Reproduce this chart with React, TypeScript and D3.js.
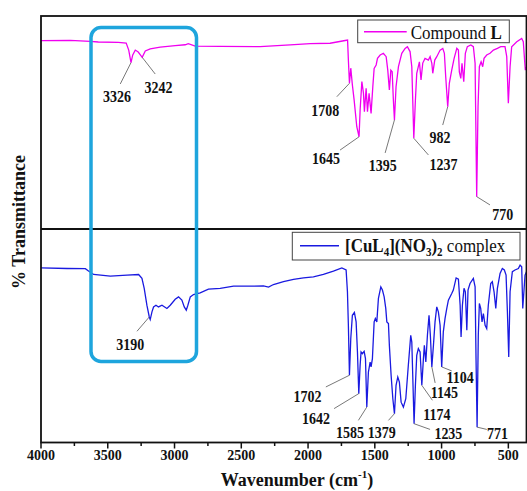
import React from 'react';
import * as d3 from 'd3';

const xTicksMajor = [4000, 3500, 3000, 2500, 2000, 1500, 1000, 500];
const xTicksMinor = [3750, 3250, 2750, 2250, 1750, 1250, 750];

// [wavenumber (cm-1), transmittance (% of panel height)]
const compoundL: [number, number][] = [
  [4000,88.4],[3781,88.6],[3631,88.1],[3571,87.8],[3421,87.6],[3362,87.3],[3343,84.0],[3326,78.1],[3313,81.7],[3294,84.0],[3272,83.1],[3242,80.6],[3219,83.6],[3182,84.6],[3107,85.4],[2995,86.1],[2920,86.5],[2897,87.0],[2845,85.9],[2658,85.7],[2359,85.6],[2134,86.4],[1984,87.0],[1835,87.2],[1722,88.5],[1704,88.7],[1698,79.3],[1690,68.4],[1680,75.5],[1668,67.6],[1655,60.6],[1635,48.0],[1618,43.3],[1610,55.9],[1597,69.2],[1585,63.8],[1578,55.1],[1565,66.1],[1555,55.1],[1543,63.7],[1528,54.3],[1515,66.8],[1505,75.4],[1490,77.0],[1480,80.1],[1460,81.7],[1436,82.5],[1415,80.9],[1403,74.6],[1391,65.3],[1380,74.6],[1370,73.8],[1361,60.6],[1353,51.2],[1341,66.8],[1323,76.2],[1298,82.5],[1273,84.8],[1256,85.6],[1236,83.3],[1223,76.2],[1216,60.6],[1208,42.6],[1196,60.6],[1186,73.1],[1166,78.5],[1154,70.0],[1141,77.9],[1124,80.1],[1099,79.3],[1086,80.9],[1073,77.8],[1066,73.1],[1051,79.3],[1036,80.9],[1011,84.0],[991,84.8],[979,82.5],[969,71.5],[954,57.4],[942,68.4],[924,74.6],[906,80.1],[886,84.8],[874,84.0],[867,73.8],[856,70.7],[847,77.8],[834,69.2],[822,82.5],[807,85.6],[781,86.4],[762,85.6],[749,77.8],[737,15.2],[727,57.4],[717,76.2],[704,78.5],[692,76.2],[682,80.1],[662,81.7],[637,82.5],[612,84.0],[582,84.8],[557,85.6],[525,85.6],[512,80.9],[500,59.0],[487,76.2],[475,85.6],[437,87.9],[400,89.5],[388,87.9],[373,74.6],[364,76]
];

const complexCu: [number, number][] = [
  [4000,81.8],[3805,81.5],[3668,81.4],[3644,80.3],[3606,78.7],[3481,77.9],[3356,78.4],[3269,78.7],[3244,76.9],[3227,72.2],[3207,64.3],[3189,58.8],[3182,57.6],[3169,61.2],[3157,63.5],[3139,64.3],[3120,63.5],[3094,64.3],[3057,62.8],[3032,64.3],[2995,67.1],[2970,68.2],[2945,66.7],[2927,63.5],[2912,62.0],[2900,64.3],[2882,68.2],[2858,69.3],[2808,70.1],[2746,71.8],[2658,72.2],[2558,73.2],[2433,73.2],[2334,73.4],[2296,72.8],[2259,74.0],[2184,75.3],[2109,76.4],[2034,77.1],[1960,77.6],[1885,78.7],[1810,80.3],[1747,81.8],[1715,80.8],[1705,70.6],[1698,54.9],[1690,31.5],[1680,48.7],[1668,59.6],[1653,60.9],[1640,56.5],[1630,42.4],[1620,22.9],[1610,36.2],[1603,42.4],[1593,41.6],[1580,42.7],[1570,39.3],[1560,16.6],[1548,33.0],[1535,37.7],[1528,35.4],[1518,39.3],[1505,56.5],[1496,58.1],[1485,56.5],[1473,67.5],[1455,72.9],[1443,71.4],[1430,68.2],[1418,62.8],[1410,56.5],[1398,55.7],[1391,45.5],[1378,31.5],[1365,20.5],[1353,13.5],[1341,26.8],[1328,30.7],[1316,28.3],[1303,18.9],[1286,16.6],[1268,20.5],[1249,36.2],[1231,50.2],[1223,47.1],[1216,31.5],[1206,8.8],[1196,26.8],[1186,40.8],[1174,44.0],[1161,42.4],[1148,26.8],[1136,39.3],[1129,45.5],[1118,37.7],[1106,50.2],[1094,59.6],[1084,50.2],[1073,35.4],[1061,45.5],[1049,56.5],[1036,63.5],[1024,61.2],[1011,54.9],[999,35.4],[987,51.8],[974,58.1],[961,62.8],[949,66.7],[924,69.8],[912,71.4],[891,77.1],[874,76.5],[861,64.3],[854,49.4],[844,64.3],[832,72.2],[822,70.6],[811,52.6],[802,71.4],[787,74.5],[762,76.9],[749,72.9],[742,39.3],[734,7.2],[725,50.2],[717,65.1],[707,62.8],[697,56.5],[687,60.4],[674,54.9],[662,53.4],[650,64.3],[632,74.5],[620,75.3],[607,70.6],[594,62.8],[582,72.2],[562,79.2],[545,81.5],[530,80.8],[517,78.4],[507,61.2],[497,40.0],[487,70.6],[470,80.0],[450,80.8],[425,81.5],[412,83.1],[400,82.3],[392,62.8],[375,78.4],[364,80.0]
];

// peak labels: text, anchor wavenumber, anchor transmittance
const topPeakLabels = ['3326', '3242', '1708', '1645', '1395', '1237', '982', '770'];
const topPeakWn = [3326, 3242, 1690, 1618, 1353, 1208, 954, 737];
const topPeakT = [78.1, 80.6, 68.4, 43.3, 51.2, 42.6, 57.4, 15.2];
const botPeakLabels = ['3190', '1702', '1642', '1585', '1379', '1235', '1174', '1145', '1104', '771'];
const botPeakWn = [3189, 1690, 1620, 1560, 1353, 1206, 1148, 1073, 999, 734];
const botPeakT = [58.8, 31.5, 22.9, 16.6, 13.5, 8.8, 26.8, 35.4, 35.4, 7.2];

// layout: [leader dx, leader dy, text dx, text baseline dy] in px from anchor
const topLayout = [
  [-10.7, 21.3, -14, 39.5], [13, 16.7, 16.3, 35.5], [-12.6, 13.4, -24.3, 33],
  [-19, 13.3, -33, 27], [-9.3, 33, -11.6, 51.5], [14.6, 16.7, 29.6, 31.5],
  [-5, 18.3, -7.7, 36.5], [13.3, 8.3, 26, 23]
];
const botLayout = [
  [-12.3, 14.3, -19, 33], [-23.6, 11.7, -42, 26.5], [-24.7, 15, -42.7, 30],
  [-8.4, 13.3, -16.7, 31], [-6, 6.7, -12.6, 24.4], [16, 5.7, 34.3, 15],
  [10.6, 15, 15, 35], [3.3, 16, 12.5, 31], [10, 4, 18.5, 16], [9.7, 2.3, 20.3, 11.6]
];

const FONT = "'Liberation Serif', 'Times New Roman', serif";
const W = 527;
const H = 491;
const L = 41, R = 526.5, TOP = 16, MID = 229, BOT = 442.5;

export default function App() {
  const x = d3.scaleLinear().domain([4000, 364]).range([L, R]);
  const yTop = d3.scaleLinear().domain([0, 100]).range([MID, TOP]);
  const yBot = d3.scaleLinear().domain([0, 100]).range([BOT, MID]);
  const lineTop = d3.line<[number, number]>().x(d => x(d[0])).y(d => yTop(d[1]));
  const lineBot = d3.line<[number, number]>().x(d => x(d[0])).y(d => yBot(d[1]));

  const renderPeaks = (labels: string[], wns: number[], ts: number[], layout: number[][], y: d3.ScaleLinear<number, number>) =>
    labels.map((lab, i) => {
      const ax = x(wns[i]);
      const ay = y(ts[i]);
      const [ldx, ldy, tdx, tdy] = layout[i];
      return (
        <g key={lab}>
          <line x1={ax} y1={ay} x2={ax + ldx} y2={ay + ldy} stroke="#555" strokeWidth={0.8} />
          <g transform={`translate(${ax + tdx},${ay + tdy}) scale(1,1.15)`}>
            <text x={0} y={0} textAnchor="middle" fontFamily={FONT} fontWeight="bold" fontSize={14} fill="#111">{lab}</text>
          </g>
        </g>
      );
    });

  return (
    <svg width={W} height={H} style={{ position: 'absolute', left: 0, top: 0, background: '#fff' }}>
      <defs>
        <clipPath id="clipTop"><rect x={L} y={TOP} width={R - L} height={MID - TOP} /></clipPath>
        <clipPath id="clipBot"><rect x={L} y={MID} width={R - L} height={BOT - MID} /></clipPath>
      </defs>
      <rect x={0} y={0} width={W} height={H} fill="#fff" />

      {/* spectra */}
      <path d={lineTop(compoundL) || ''} fill="none" stroke="#f000f0" strokeWidth={1.3} clipPath="url(#clipTop)" />
      <path d={lineBot(complexCu) || ''} fill="none" stroke="#1a1ae0" strokeWidth={1.3} clipPath="url(#clipBot)" />

      {/* frames */}
      <rect x={L} y={TOP} width={R - L} height={BOT - TOP} fill="none" stroke="#111" strokeWidth={1.8} />
      <line x1={L} x2={R} y1={MID} y2={MID} stroke="#111" strokeWidth={1.8} />

      {/* x ticks */}
      {xTicksMajor.map(t => (
        <g key={'M' + t}>
          <line x1={x(t)} x2={x(t)} y1={BOT} y2={BOT + 6} stroke="#111" strokeWidth={1.5} />
          <text x={x(t)} y={BOT + 17.5} textAnchor="middle" fontFamily={FONT} fontWeight="bold" fontSize={14} fill="#111">{t}</text>
        </g>
      ))}
      {xTicksMinor.map(t => (
        <line key={'m' + t} x1={x(t)} x2={x(t)} y1={BOT} y2={BOT + 3.5} stroke="#111" strokeWidth={1.5} />
      ))}

      {/* axis titles */}
      <text x={297} y={486} textAnchor="middle" fontFamily={FONT} fontWeight="bold" fontSize={18} fill="#111">
        Wavenumber (cm<tspan fontSize={11} dy={-8}>-1</tspan><tspan dy={8}>)</tspan>
      </text>
      <text transform={`translate(25,222) rotate(-90)`} textAnchor="middle" fontFamily={FONT} fontWeight="bold" fontSize={18} fill="#111">
        % Transmittance
      </text>

      {/* peak labels */}
      {renderPeaks(topPeakLabels, topPeakWn, topPeakT, topLayout, yTop)}
      {renderPeaks(botPeakLabels, botPeakWn, botPeakT, botLayout, yBot)}

      {/* highlight box */}
      <rect x={91} y={27.5} width={105.5} height={334} rx={10} ry={10} fill="none" stroke="#1ea5dd" strokeWidth={3.5} />

      {/* legends */}
      <rect x={357.7} y={20} width={151.6} height={22.7} fill="#fff" stroke="#444" strokeWidth={1} />
      <line x1={364} x2={406.7} y1={31.7} y2={31.7} stroke="#f000f0" strokeWidth={1.6} />
      <g transform="translate(410.7,38.5) scale(1,1.15)">
        <text x={0} y={0} fontFamily={FONT} fontSize={17} fill="#111">
          Compound <tspan fontWeight="bold">L</tspan>
        </text>
      </g>

      <rect x={292.3} y={232.3} width={227.7} height={27.7} fill="#fff" stroke="#444" strokeWidth={1} />
      <line x1={300} x2={339} y1={245.7} y2={245.7} stroke="#1a1ae0" strokeWidth={1.6} />
      <g transform="translate(345,251.5) scale(1,1.15)">
        <text x={0} y={0} fontFamily={FONT} fontSize={17} fill="#111">
          <tspan fontWeight="bold">[CuL</tspan>
          <tspan fontWeight="bold" fontSize={11} dy={3.5}>4</tspan>
          <tspan fontWeight="bold" dy={-3.5}>](NO</tspan>
          <tspan fontWeight="bold" fontSize={11} dy={3.5}>3</tspan>
          <tspan fontWeight="bold" dy={-3.5}>)</tspan>
          <tspan fontWeight="bold" fontSize={11} dy={3.5}>2</tspan>
          <tspan dy={-3.5}> complex</tspan>
        </text>
      </g>
    </svg>
  );
}
